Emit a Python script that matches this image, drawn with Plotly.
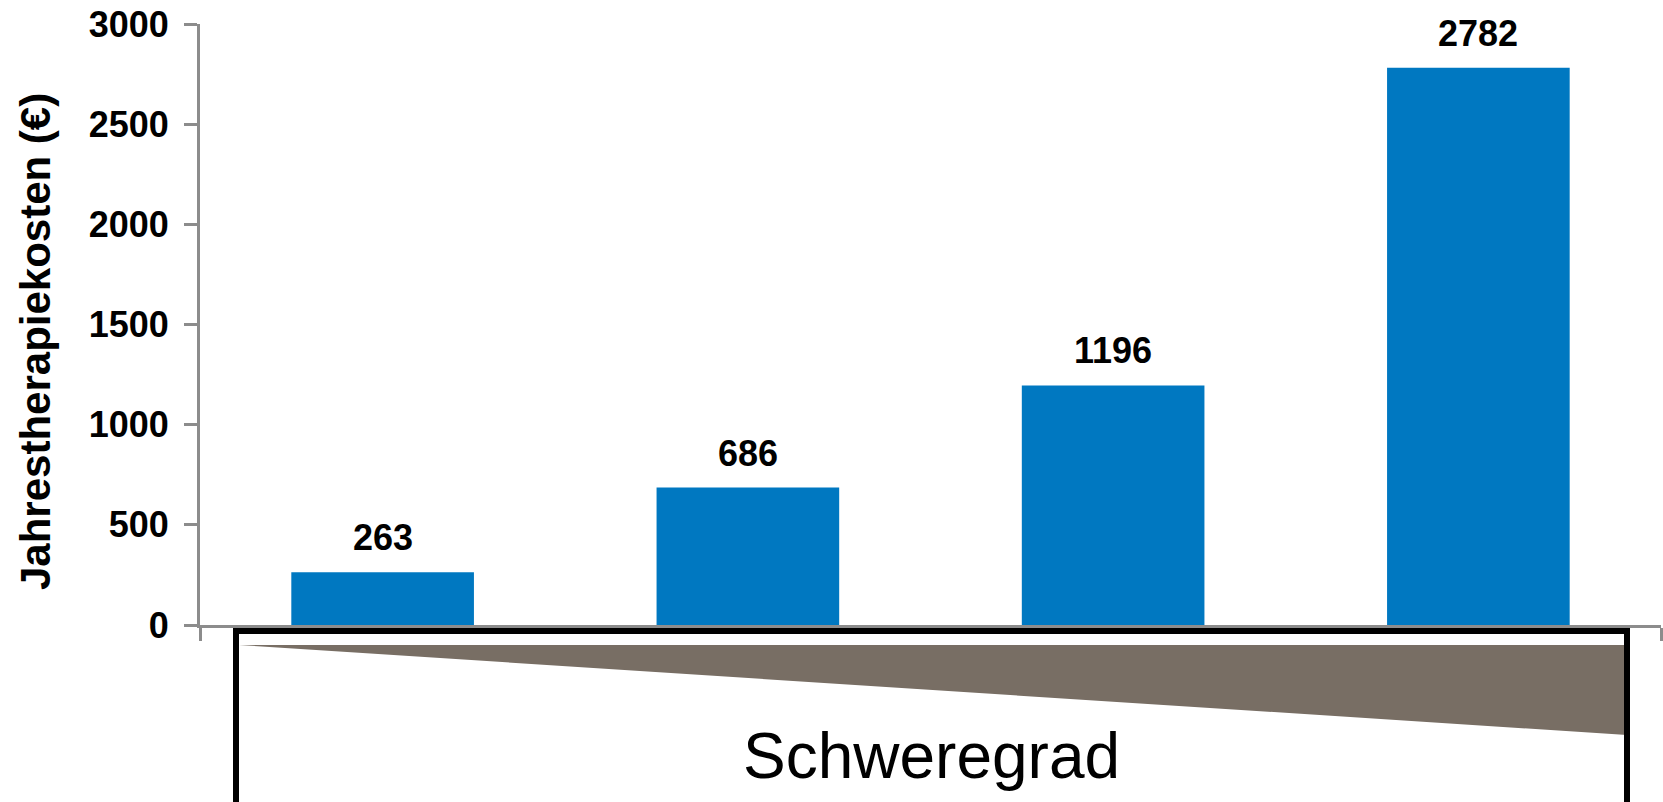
import plotly.graph_objects as go

# Data
severity_levels = [1, 2, 3, 4]
costs = [263, 686, 1196, 2782]
y_ticks = [0, 500, 1000, 1500, 2000, 2500, 3000]
y_title = "Jahrestherapiekosten (€)"
x_title = "Schweregrad"

W, H = 1663, 802
L, R, T, B = 200, 2, 24, 177
PW, PH = W - L - R, H - T - B


def px(x):
    return (x - L) / PW


def py(y):
    return (H - B - y) / PH


FONT = "Liberation Sans, Arial, sans-serif"
BAR = "#0078C1"
AX = "#8C8C8C"
TRI = "#786E64"

fig = go.Figure()
fig.add_trace(go.Bar(
    x=severity_levels, y=costs, width=0.5,
    marker=dict(color=BAR, line=dict(width=0)),
    hoverinfo="x+y",
))

annotations = []
for x, v in zip(severity_levels, costs):
    annotations.append(dict(
        x=x, y=v, xref="x", yref="y", text=f"<b>{v}</b>", showarrow=False,
        yanchor="bottom", yshift=12, font=dict(family=FONT, size=36, color="black"),
    ))

annotations.append(dict(
    x=px(35), y=py(342), xref="paper", yref="paper", text=f"<b>{y_title}</b>",
    textangle=-90, showarrow=False, xanchor="center", yanchor="middle",
    font=dict(family=FONT, size=42, color="black"),
))
annotations.append(dict(
    x=px(931), y=py(756), xref="paper", yref="paper", text=x_title,
    showarrow=False, xanchor="center", yanchor="middle",
    font=dict(family=FONT, size=64, color="black"),
))

shapes = [
    dict(type="path", xref="paper", yref="paper",
         path=f"M {px(239)},{py(645)} L {px(1627)},{py(645)} L {px(1627)},{py(735)} Z",
         fillcolor=TRI, line=dict(width=0), layer="above"),
    dict(type="rect", xref="paper", yref="paper",
         x0=px(236), x1=px(1627), y0=py(631), y1=py(830),
         line=dict(color="black", width=6), fillcolor="rgba(0,0,0,0)", layer="above"),
]

fig.update_layout(
    width=W, height=H,
    margin=dict(l=L, r=R, t=T, b=B),
    paper_bgcolor="white", plot_bgcolor="white",
    showlegend=False,
    annotations=annotations,
    shapes=shapes,
    xaxis=dict(
        range=[0.5, 4.5], tickmode="array", tickvals=[0.5, 4.5],
        showticklabels=False, ticks="outside", ticklen=13, tickwidth=3, tickcolor=AX,
        showline=True, linecolor=AX, linewidth=3, showgrid=False, zeroline=False,
        fixedrange=True,
    ),
    yaxis=dict(
        range=[0, 3000], tickmode="array", tickvals=y_ticks,
        ticks="outside", ticklen=13, tickwidth=3, tickcolor=AX,
        showline=True, linecolor=AX, linewidth=3, showgrid=False, zeroline=False,
        tickfont=dict(family=FONT, size=36, color="black", weight="bold"),
        ticklabelstandoff=8,
    ),
)

fig.write_html("out.html")
